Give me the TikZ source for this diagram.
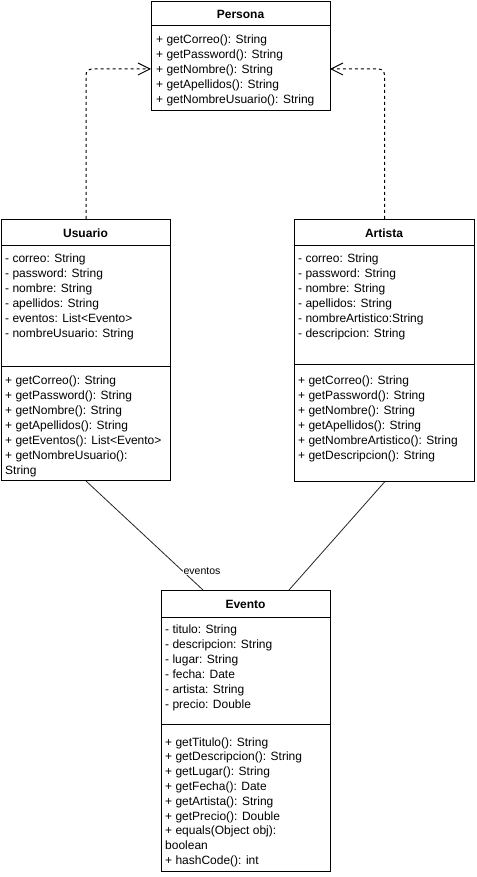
\documentclass[tikz,border=0pt]{standalone}
\usepackage{fontspec}
\setmainfont{Liberation Sans}
\usetikzlibrary{arrows.meta,calc}
\begin{document}
\begin{tikzpicture}[x=1pt,y=-1pt,
  box/.style={draw=black,line width=1pt,fill=white,anchor=north west,inner sep=0pt},
  txt/.style={anchor=base west,inner sep=0pt,font=\fontsize{12}{14}\selectfont},
  ttl/.style={inner sep=0pt,font=\fontsize{12}{14}\selectfont\bfseries},
  realize/.style={dashed,dash pattern=on 3pt off 3pt,line width=1pt,rounded corners=6pt,
    -{Straight Barb[length=12pt,width=12pt,line width=0.9pt]}},
  assoc/.style={line width=0.8pt,draw=black!85}]
\useasboundingbox (0,0) rectangle (476,877);
\fill[white] (0,0) rectangle (476,877);

% boxes
\node[box,minimum width=179pt,minimum height=109pt] (persona) at (151,1) {};
\node[box,minimum width=169pt,minimum height=261pt] (usuario) at (1,219) {};
\node[box,minimum width=180pt,minimum height=262pt] (artista) at (294,219) {};
\node[box,minimum width=169pt,minimum height=281pt] (evento) at (161,590) {};

% compartments
\draw[line width=1pt] (151,26) -- (330,26);
\draw[line width=1pt] (1,245) -- (170,245);
\draw[line width=1pt] (1,366) -- (170,366);
\draw[line width=1pt] (294,245) -- (474,245);
\draw[line width=1pt] (294,364) -- (474,364);
\draw[line width=1pt] (161,617) -- (330,617);
\draw[line width=1pt] (161,724) -- (330,724);

% titles
\node[ttl] (tp) at (240.5,14) {Persona};
\node[ttl] (tu) at (85.5,233) {Usuario};
\node[ttl] (ta) at (384,233) {Artista};
\node[ttl] (te) at (245.5,604) {Evento};

% Persona methods
\foreach \t [count=\i from 0] in {+ getCorreo(): String,+ getPassword(): String,+ getNombre(): String,+ getApellidos(): String,+ getNombreUsuario(): String}
  \node[txt] (pm\i) at (156,43.3+15*\i) {\t};

% Usuario
\foreach \t [count=\i from 0] in {- correo: String,- password: String,- nombre: String,- apellidos: String,- eventos: List<Evento>,- nombreUsuario: String}
  \node[txt] (ua\i) at (5,262+15*\i) {\t};
\foreach \t [count=\i from 0] in {+ getCorreo(): String,+ getPassword(): String,+ getNombre(): String,+ getApellidos(): String,+ getEventos(): List<Evento>,+ getNombreUsuario():,String}
  \node[txt] (um\i) at (5,384+15.1*\i) {\t};

% Artista
\foreach \t [count=\i from 0] in {- correo: String,- password: String,- nombre: String,- apellidos: String,- nombreArtistico:String,- descripcion: String}
  \node[txt] (aa\i) at (298,262+15*\i) {\t};
\foreach \t [count=\i from 0] in {+ getCorreo(): String,+ getPassword(): String,+ getNombre(): String,+ getApellidos(): String,+ getNombreArtistico(): String,+ getDescripcion(): String}
  \node[txt] (am\i) at (298,384+15.1*\i) {\t};

% Evento
\foreach \t [count=\i from 0] in {- titulo: String,- descripcion: String,- lugar: String,- fecha: Date,- artista: String,- precio: Double}
  \node[txt] (ea\i) at (165,633+15*\i) {\t};
\foreach \t [count=\i from 0] in {+ getTitulo(): String,+ getDescripcion(): String,+ getLugar(): String,+ getFecha(): Date,+ getArtista(): String,+ getPrecio(): Double,+ equals(Object obj):,boolean,+ hashCode(): int}
  \node[txt] (em\i) at (165,746+14.8*\i) {\t};

% realization arrows
\coordinate (pl) at (151,69);
\coordinate (pr) at (330,69);
\draw[realize] (usuario.north) |- (pl);
\draw[realize] (artista.north) |- (pr);

% associations
\coordinate (el) at (203,590);
\coordinate (er) at (289,590);
\draw[assoc] (usuario.south) -- (el);
\draw[assoc] (artista.south) -- (er);
\node[fill=white,inner sep=1pt,font=\fontsize{10.5}{12}\selectfont] (lbl) at (202,571) {eventos};
\end{tikzpicture}
\end{document}
